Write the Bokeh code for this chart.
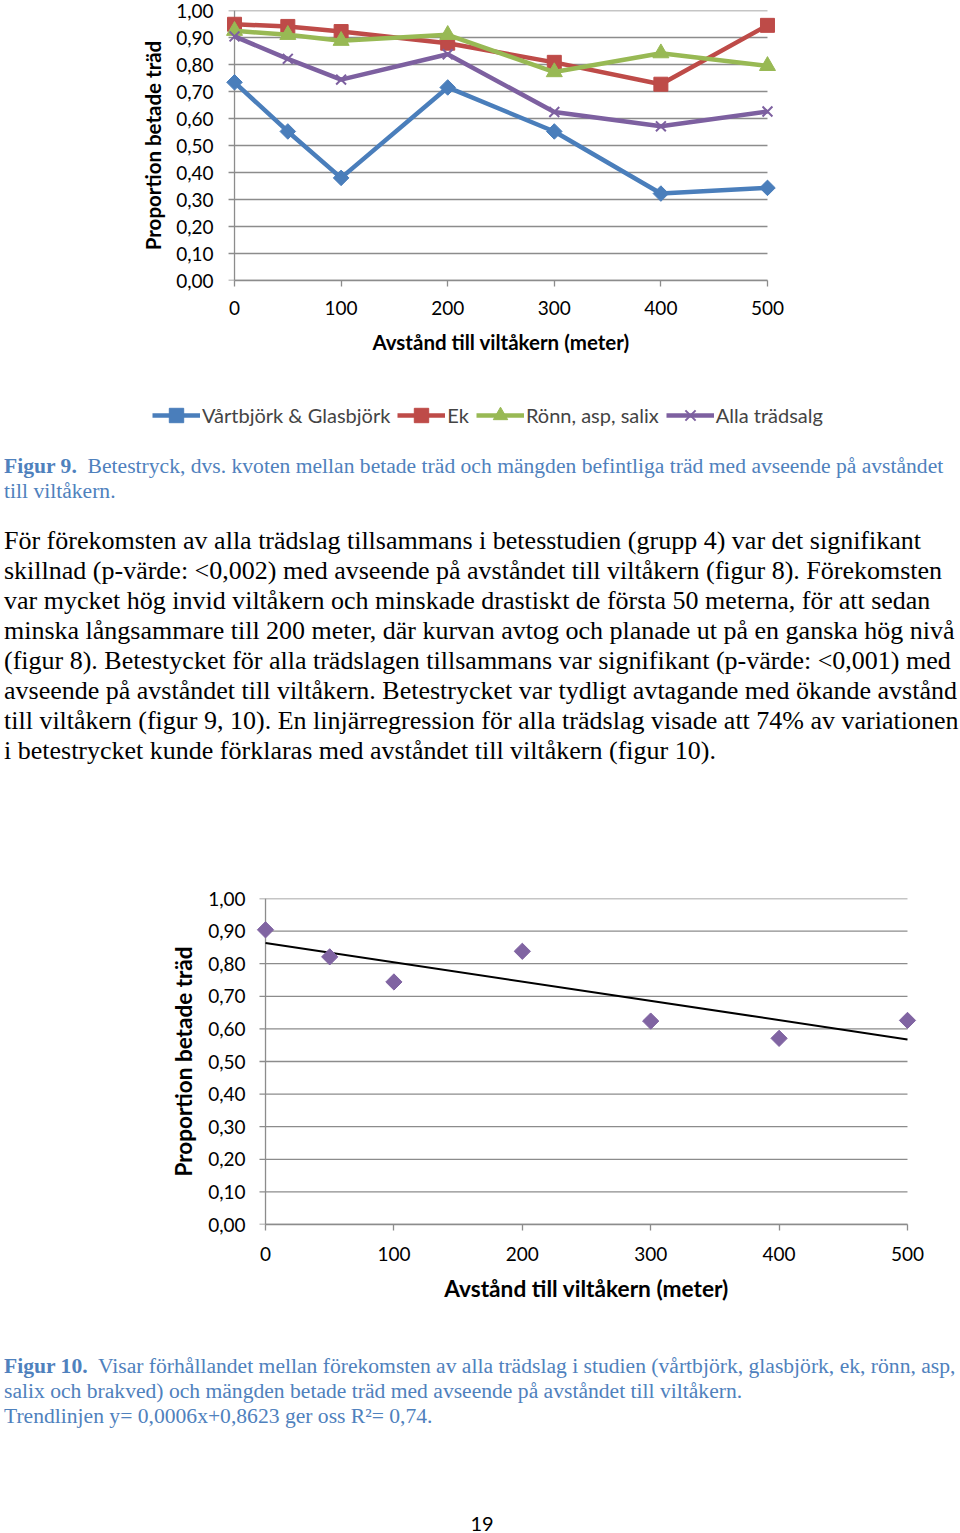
import numpy as np
from bokeh.plotting import figure
from bokeh.models import (Range1d, FixedTicker, CustomJSTickFormatter, Legend, LegendItem, Div)
from bokeh.layouts import column, row
from bokeh.embed import file_html
from bokeh.resources import INLINE

# ---------------- data ----------------
distance = [0, 50, 100, 200, 300, 400, 500]
vartbjork = [0.734, 0.552, 0.380, 0.715, 0.552, 0.322, 0.343]
ek = [0.949, 0.941, 0.922, 0.879, 0.808, 0.727, 0.945]
ronn = [0.925, 0.910, 0.888, 0.910, 0.772, 0.842, 0.795]
alla = [0.904, 0.821, 0.744, 0.838, 0.624, 0.571, 0.626]
series_names = ["Vårtbjörk & Glasbjörk", "Ek", "Rönn, asp, salix", "Alla trädsalg"]
x_ticks = [0, 100, 200, 300, 400, 500]
y_ticks = [0.0, 0.1, 0.2, 0.3, 0.4, 0.5, 0.6, 0.7, 0.8, 0.9, 1.0]

CHART_FONT = "Lato"
GRID = "#8c8c8c"
X0, X1 = min(x_ticks), max(x_ticks)
Y0, Y1 = min(y_ticks), max(y_ticks)

fmt = CustomJSTickFormatter(code="return tick.toFixed(2).replace('.', ',');")


def style_axes(p, pad, tick_len, title_size, ylabel_size, x_standoff, x_title_standoff, y_standoff):
    p.xgrid.grid_line_color = None
    p.ygrid.grid_line_color = None
    # horizontal gridlines (with their small outward tick) limited to the axis extent
    p.segment(x0=[X0 - tick_len] * len(y_ticks), x1=[X1] * len(y_ticks), y0=y_ticks, y1=y_ticks,
              line_color=GRID, line_width=1.3, level="underlay")
    # vertical axis line at x = 0
    p.segment(x0=[X0], x1=[X0], y0=[Y0], y1=[Y1], line_color=GRID, line_width=1.3, level="underlay")
    p.outline_line_color = None
    for ax in (p.xaxis[0], p.yaxis[0]):
        ax.axis_line_color = GRID
        ax.axis_line_width = 1.3
        ax.major_tick_line_color = GRID
        ax.major_tick_line_width = 1.3
        ax.major_tick_in = 0
        ax.major_tick_out = 6
        ax.minor_tick_line_color = None
        ax.major_label_text_font = CHART_FONT
        ax.major_label_text_font_size = "19px"
        ax.major_label_text_color = "black"
        ax.axis_label_text_font = CHART_FONT
        ax.axis_label_text_font_style = "bold"
        ax.axis_label_text_color = "black"
    p.xaxis[0].ticker = FixedTicker(ticks=x_ticks)
    p.yaxis[0].ticker = FixedTicker(ticks=y_ticks)
    p.xaxis[0].bounds = (X0, X1)
    p.yaxis[0].axis_line_color = None
    p.yaxis[0].major_tick_line_color = None
    p.yaxis[0].major_tick_out = 0
    p.yaxis[0].formatter = fmt
    p.xaxis[0].axis_label = "Avstånd till viltåkern (meter)"
    p.yaxis[0].axis_label = "Proportion betade träd"
    p.xaxis[0].axis_label_text_font_size = title_size
    p.yaxis[0].axis_label_text_font_size = ylabel_size
    p.xaxis[0].major_label_standoff = x_standoff
    p.yaxis[0].major_label_standoff = y_standoff
    p.xaxis[0].axis_label_standoff = x_title_standoff
    p.yaxis[0].axis_label_standoff = 8


# ---------------- chart 1 ----------------
pad1 = 9.4      # range padding (data units) so edge markers are not clipped
tick1 = 5.6     # 6 px tick expressed in data units
p1 = figure(width=944, height=380, output_backend="svg", toolbar_location=None,
            x_range=Range1d(X0 - pad1, X1 + pad1), y_range=Range1d(Y0, Y1),
            min_border_left=224, min_border_right=167, min_border_top=10,
            min_border_bottom=100, background_fill_color="white",
            border_fill_color="white")
style_axes(p1, pad1, tick1, "20.5px", "20.5px", 14, 12, 11)

colors = ["#4a7ebb", "#be4b48", "#98b954", "#7d60a0"]
markers = ["square", "square", "triangle", "x"]
angles = [np.pi / 4, 0, 0, 0]
sizes = [11, 14, 16, 14]
all_series = [vartbjork, ek, ronn, alla]


def draw_series(p):
    rs = []
    for vals, c, m, a, s in zip(all_series, colors, markers, angles, sizes):
        lr = p.line(distance, vals, line_color=c, line_width=4.5)
        if m == "x":
            sr = p.scatter(distance, vals, marker=m, size=s, line_color=c, line_width=2)
        else:
            sr = p.scatter(distance, vals, marker=m, size=s, angle=a, fill_color=c, line_color=c)
        rs.append((lr, sr))
    return rs


draw_series(p1)

# legend strip below chart 1 (its own copies of the series sit outside the visible range)
pleg = figure(width=944, height=60, output_backend="svg", toolbar_location=None,
              x_range=Range1d(X0, X1), y_range=Range1d(Y1 + 5, Y1 + 6),
              x_axis_type=None, y_axis_type=None, min_border=0,
              background_fill_color="white", border_fill_color="white")
pleg.grid.grid_line_color = None
pleg.outline_line_color = None
leg_rs = draw_series(pleg)
items = [LegendItem(label=n, renderers=[lr, sr]) for n, (lr, sr) in zip(series_names, leg_rs)]
legend = Legend(items=items, orientation="horizontal", location=(152, 7),
                label_text_font=CHART_FONT, label_text_font_size="20px",
                label_standoff=2, glyph_width=48, glyph_height=36, label_height=20,
                spacing=7, padding=0, margin=0, border_line_color=None,
                background_fill_alpha=0)
pleg.add_layout(legend, "center")

# ---------------- text between charts ----------------
cap_style = ("font-family:'Liberation Serif';color:#4f81bd;font-size:21.6px;"
             "line-height:25px;white-space:nowrap;padding-left:4px;")
caption9 = ('<div style="padding-top:13.5px;%s">'
            '<b>Figur 9.</b>&nbsp; Betestryck, dvs. kvoten mellan betade träd och mängden befintliga träd med avseende på avståndet<br>'
            'till viltåkern.</div>') % cap_style

para_lines = [
    "För förekomsten av alla trädslag tillsammans i betesstudien (grupp 4) var det signifikant",
    "skillnad (p-värde: &lt;0,002) med avseende på avståndet till viltåkern (figur 8). Förekomsten",
    "var mycket hög invid viltåkern och minskade drastiskt de första 50 meterna, för att sedan",
    "minska långsammare till 200 meter, där kurvan avtog och planade ut på en ganska hög nivå",
    "(figur 8). Betestycket för alla trädslagen tillsammans var signifikant (p-värde: &lt;0,001) med",
    "avseende på avståndet till viltåkern. Betestrycket var tydligt avtagande med ökande avstånd",
    "till viltåkern (figur 9, 10). En linjärregression för alla trädslag visade att 74% av variationen",
    "i betestrycket kunde förklaras med avståndet till viltåkern (figur 10).",
]
para = ('<div style="padding-top:22.5px;padding-left:4px;font-family:\'Liberation Serif\';'
        'color:black;font-size:26px;line-height:30px;white-space:nowrap;">' + "<br>".join(para_lines) + '</div>')
div1 = Div(text=caption9 + para, width=944, height=342, margin=0)

# ---------------- chart 2 ----------------
pad2 = 7.8
tick2 = 4.7
p2 = figure(width=944, height=538, output_backend="svg", toolbar_location=None,
            x_range=Range1d(X0 - pad2, X1 + pad2), y_range=Range1d(Y0, Y1),
            min_border_left=255, min_border_right=27, min_border_top=116,
            min_border_bottom=96, background_fill_color="white",
            border_fill_color="white")
style_axes(p2, pad2, tick2, "22.7px", "22.5px", 16, 11, 10)

slope, intercept = np.polyfit(distance, alla, 1)
trend_x = [X0, X1]
trend_y = [intercept + slope * v for v in trend_x]
p2.line(trend_x, trend_y, line_color="black", line_width=2)
p2.scatter(distance, alla, marker="square", angle=np.pi / 4, size=11.5,
           fill_color="#8064a2", line_color="#8064a2")

caption10 = ('<div style="padding-top:33.5px;%s">'
             '<b>Figur 10.</b>&nbsp; Visar förhållandet mellan förekomsten av alla trädslag i studien (vårtbjörk, glasbjörk, ek, rönn, asp,<br>'
             'salix och brakved) och mängden betade träd med avseende på avståndet till viltåkern.<br>'
             'Trendlinjen y= 0,0006x+0,8623 ger oss R²= 0,74.</div>') % cap_style
pagenum = ('<div style="padding-top:84.5px;text-align:center;font-family:Lato;font-size:20px;'
           'line-height:20px;color:black;width:944px;position:relative;left:10px;">19</div>')
div2 = Div(text=caption10 + pagenum, width=944, height=213, margin=0)

layout = column(row(p1), row(pleg), div1, row(p2), div2, spacing=0)
open("out.html", "w").write(file_html(layout, INLINE))
